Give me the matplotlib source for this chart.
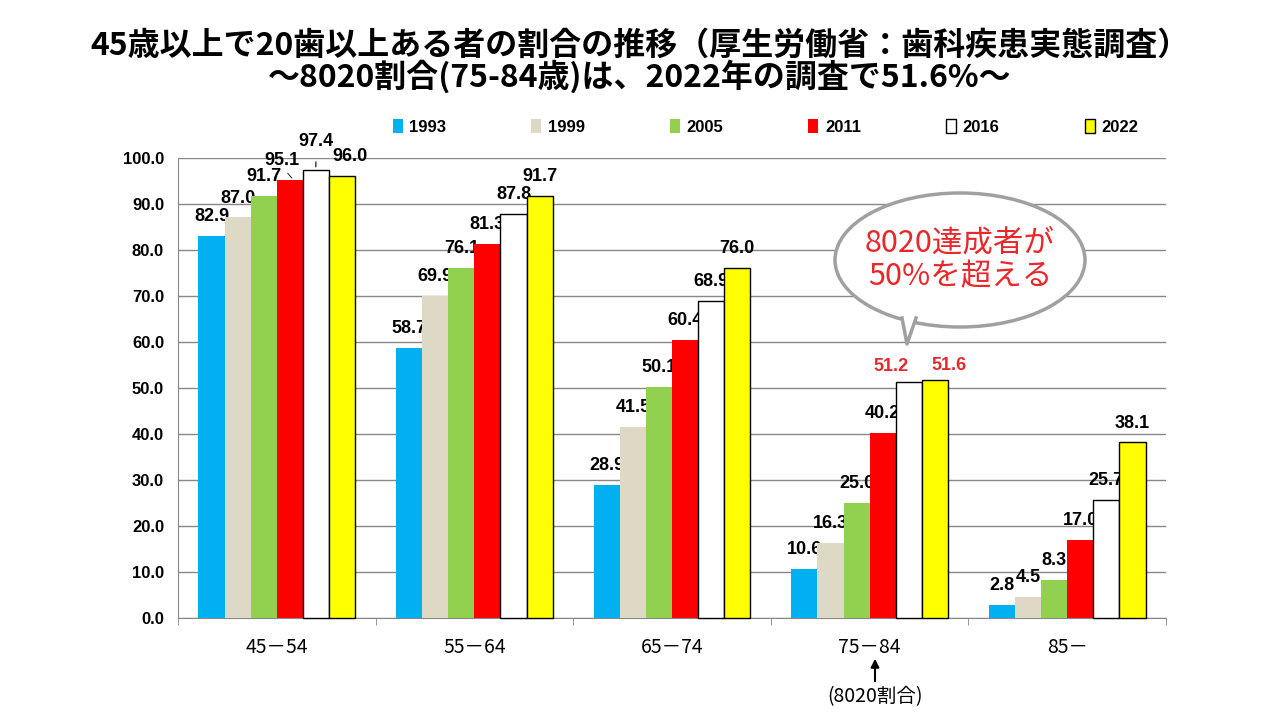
import numpy as np
import matplotlib.pyplot as plt
from matplotlib.patches import Ellipse, Polygon
from matplotlib.lines import Line2D

plt.rcParams['font.family'] = ['Noto Sans CJK JP', 'DejaVu Sans']

# data
age_groups = ['45－54', '55－64', '65－74', '75－84', '85－']
years = ['1993', '1999', '2005', '2011', '2016', '2022']
v1993 = [82.9, 58.7, 28.9, 10.6, 2.8]
v1999 = [87.0, 69.9, 41.5, 16.3, 4.5]
v2005 = [91.7, 76.1, 50.1, 25.0, 8.3]
v2011 = [95.1, 81.3, 60.4, 40.2, 17.0]
v2016 = [97.4, 87.8, 68.9, 51.2, 25.7]
v2022 = [96.0, 91.7, 76.0, 51.6, 38.1]
series = [v1993, v1999, v2005, v2011, v2016, v2022]

colors = ['#00B0F0', '#DDD9C4', '#92D050', '#FF0000', '#FFFFFF', '#FFFF00']
edges = ['none', 'none', 'none', 'none', 'black', 'black']

fig = plt.figure(figsize=(12.8, 7.2), dpi=100)
ax = fig.add_axes([0.139, 0.142, 0.772, 0.639])

x = np.arange(len(age_groups))
w = 0.132
val_font = dict(fontfamily=['Liberation Sans', 'DejaVu Sans'], fontweight='bold', fontsize=13)

for i, (vals, c, e) in enumerate(zip(series, colors, edges)):
    xs = x + (i - 2.5) * w
    ax.bar(xs, vals, w, color=c, edgecolor=e, linewidth=1.0, label=years[i], zorder=3, clip_on=False)
    for j, (xx, v) in enumerate(zip(xs, vals)):
        dx, dy = 0, 14
        col = 'black'
        if j == 0 and i == 3:
            dx = -6
            ax.annotate('', xy=(xx + 0.02, v), xytext=(xx - 0.02, v + 2.0),
                        arrowprops=dict(arrowstyle='-', color='black', lw=0.6), annotation_clip=False)
        if j == 0 and i == 4:
            dy = 20
            ax.annotate('', xy=(xx, v), xytext=(xx, v + 2.3),
                        arrowprops=dict(arrowstyle='-', color='black', lw=0.8), annotation_clip=False)
        if j == 0 and i == 5:
            dx = 6
        if j == 3 and i in (4, 5):
            col = '#E8282B'
            dy = 11
            dx = -13 if i == 4 else 10
        ax.annotate(f'{v:.1f}', xy=(xx, v), xytext=(dx, dy), textcoords='offset points',
                    ha='center', va='center', color=col, annotation_clip=False, **val_font)

ax.set_xlim(-0.5, 4.5)
ax.set_ylim(0, 100)
ax.set_yticks(np.arange(0, 101, 10))
ax.set_yticklabels([f'{t:.1f}' for t in np.arange(0, 101, 10)],
                   fontfamily=['Liberation Sans'], fontweight='bold', fontsize=12)
ax.set_xticks(x)
ax.set_xticklabels(age_groups, fontsize=14)
ax.set_xticks(np.arange(-0.5, 4.6, 1), minor=True)
ax.tick_params(axis='x', which='major', length=0, pad=14)
ax.tick_params(axis='x', which='minor', length=5, color='#888888')
ax.tick_params(axis='y', length=0, pad=10)
ax.grid(axis='y', color='#888888', linewidth=1.0, zorder=0)
for s in ['top', 'right']:
    ax.spines[s].set_visible(False)
ax.spines['left'].set_color('#888888')
ax.spines['bottom'].set_color('#888888')

# title
fig.text(0.5, 0.937, '45歳以上で20歯以上ある者の割合の推移（厚生労働省：歯科疾患実態調査）',
         ha='center', va='center', fontsize=23, fontweight='bold')
fig.text(0.5, 0.893, '～8020割合(75-84歳)は、2022年の調査で51.6%～',
         ha='center', va='center', fontsize=23, fontweight='bold')

# legend
fig.legend(loc='center', bbox_to_anchor=(0.598, 1 - 127 / 720), ncol=6, frameon=False,
           prop=dict(family='Liberation Sans', weight='bold', size=12),
           handlelength=0.6, handleheight=0.9, handletextpad=0.4, columnspacing=5.1)

# speech bubble
ex, ey = 960 / 1280, 1 - 260 / 720
ell = Ellipse((ex, ey), 250 / 1280, 134 / 720, transform=fig.transFigure,
              facecolor='white', edgecolor='#A0A0A0', linewidth=2.5, zorder=10)
fig.add_artist(ell)
tail = [(902 / 1280, 1 - 318 / 720), (916 / 1280, 1 - 318 / 720), (907 / 1280, 1 - 344 / 720)]
fig.add_artist(Polygon(tail, closed=True, transform=fig.transFigure,
                       facecolor='white', edgecolor='none', zorder=11))
fig.add_artist(Line2D([tail[0][0], tail[2][0], tail[1][0]], [tail[0][1], tail[2][1], tail[1][1]],
                      transform=fig.transFigure, color='#A0A0A0', linewidth=2.5, zorder=12))
fig.text(ex, ey, '8020達成者が\n50%を超える', ha='center', va='center', color='#E8282B',
         fontsize=22, linespacing=1.1, zorder=13)

# arrow below 75-84
ax.annotate('', xy=(875 / 1280, 1 - 656 / 720), xytext=(875 / 1280, 1 - 684 / 720),
            xycoords='figure fraction', textcoords='figure fraction',
            arrowprops=dict(arrowstyle='-|>', color='black', lw=1.5, mutation_scale=12))
fig.text(875 / 1280, 1 - 697 / 720, '(8020割合)', ha='center', va='center', fontsize=14)

fig.savefig('out.png', dpi=100)
